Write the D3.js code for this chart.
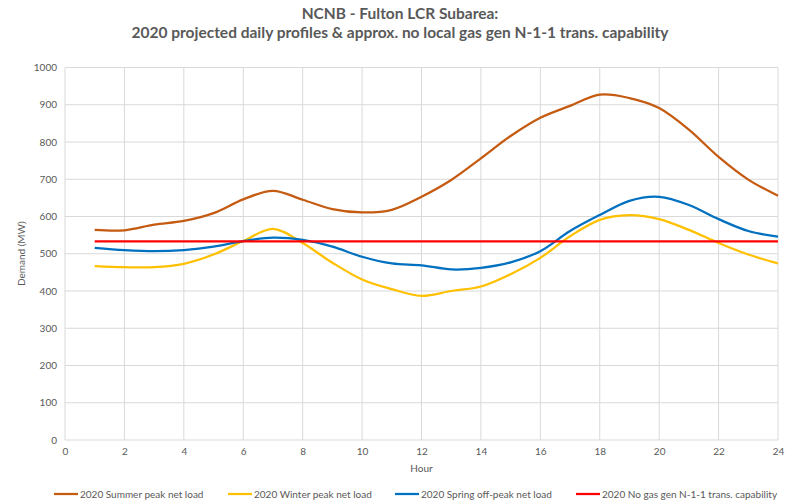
<!DOCTYPE html>
<html>
<head>
<meta charset="utf-8">
<script src="https://cdn.jsdelivr.net/npm/d3@7"></script>
<style>
  body { margin: 0; background: #fff; }
  svg text { font-family: Lato, "Liberation Sans", sans-serif; fill: #595959; }
</style>
</head>
<body>
<script>
// chart data
var hours = d3.range(1, 25);
var summer = [564, 563, 578, 588, 609, 646, 669, 645, 620, 611, 618, 653,
              698, 756, 816, 865, 897, 927, 918, 891, 833, 760, 699, 656];
var winter = [467, 464, 464, 473, 498, 534, 567, 529, 476, 431, 405, 387,
              400, 412, 445, 489, 547, 591, 604, 593, 564, 529, 498, 474];
var spring = [516, 510, 507, 510, 519, 534, 543, 537, 519, 492, 474, 469,
              458, 462, 477, 507, 561, 604, 642, 653, 631, 593, 561, 546];
var capability = 533;
var xTicks = d3.range(0, 25, 2);
var yTicks = d3.range(0, 1001, 100);
var seriesNames = ['2020 Summer peak net load', '2020 Winter peak net load',
                   '2020 Spring off-peak net load', '2020 No gas gen N-1-1 trans. capability'];
var seriesColors = ['#C55A11', '#FFC000', '#0070C0', '#FF0000'];

// layout
var width = 796, height = 504,
    plotLeft = 65, plotRight = 778, plotTop = 67.5, plotBottom = 440;

var svg = d3.select('body').append('svg')
    .attr('width', width)
    .attr('height', height);

var x = d3.scaleLinear().domain([0, 24]).range([plotLeft, plotRight]);
var y = d3.scaleLinear().domain([0, 1000]).range([plotBottom, plotTop]);

// title
svg.append('text')
    .attr('x', 400).attr('y', 19)
    .attr('text-anchor', 'middle')
    .style('font-size', '15.5px').style('font-weight', 'bold')
    .text('NCNB - Fulton LCR Subarea:');
svg.append('text')
    .attr('x', 400).attr('y', 38)
    .attr('text-anchor', 'middle')
    .style('font-size', '15.5px').style('font-weight', 'bold')
    .text('2020 projected daily profiles & approx. no local gas gen N-1-1 trans. capability');

// gridlines
svg.append('g').selectAll('line')
    .data(yTicks).enter().append('line')
    .attr('x1', plotLeft).attr('x2', plotRight)
    .attr('y1', function(d) { return y(d); })
    .attr('y2', function(d) { return y(d); })
    .attr('stroke', '#d9d9d9').attr('stroke-width', 1);
svg.append('g').selectAll('line')
    .data(xTicks).enter().append('line')
    .attr('y1', plotTop).attr('y2', plotBottom)
    .attr('x1', function(d) { return x(d); })
    .attr('x2', function(d) { return x(d); })
    .attr('stroke', '#d9d9d9').attr('stroke-width', 1);

// axes (labels only, lines come from the grid)
var yAxis = svg.append('g')
    .attr('transform', 'translate(' + (plotLeft - 8) + ',0)')
    .call(d3.axisLeft(y).tickValues(yTicks).tickFormat(d3.format('d')).tickSize(0).tickPadding(0));
yAxis.select('.domain').remove();
yAxis.selectAll('text').style('font-size', '10px').style('font-family', 'Lato, sans-serif').attr('fill', '#595959');

var xAxis = svg.append('g')
    .attr('transform', 'translate(0,' + (plotBottom + 8) + ')')
    .call(d3.axisBottom(x).tickValues(xTicks).tickSize(0).tickPadding(0));
xAxis.select('.domain').remove();
xAxis.selectAll('text').style('font-size', '10px').style('font-family', 'Lato, sans-serif').attr('fill', '#595959');

// axis titles
svg.append('text')
    .attr('transform', 'translate(25,' + ((plotTop + plotBottom) / 2) + ') rotate(-90)')
    .attr('text-anchor', 'middle')
    .style('font-size', '10px')
    .text('Demand (MW)');
svg.append('text')
    .attr('x', (plotLeft + plotRight) / 2).attr('y', 472)
    .attr('text-anchor', 'middle')
    .style('font-size', '10px')
    .text('Hour');

// series
var line = d3.line()
    .x(function(d, i) { return x(hours[i]); })
    .y(function(d) { return y(d); })
    .curve(d3.curveCatmullRom.alpha(0));

[summer, winter, spring].forEach(function(s, i) {
  svg.append('path')
      .datum(s)
      .attr('d', line)
      .attr('fill', 'none')
      .attr('stroke', seriesColors[i])
      .attr('stroke-width', 2.25);
});

svg.append('path')
    .datum(hours.map(function() { return capability; }))
    .attr('d', line)
    .attr('fill', 'none')
    .attr('stroke', seriesColors[3])
    .attr('stroke-width', 2.25);

// legend
var legendX = [54, 228, 395, 576];
var legend = svg.append('g').selectAll('g')
    .data(seriesNames).enter().append('g')
    .attr('transform', function(d, i) { return 'translate(' + legendX[i] + ',494)'; });
legend.append('line')
    .attr('x1', 0).attr('x2', 24)
    .attr('stroke', function(d, i) { return seriesColors[i]; })
    .attr('stroke-width', 2.25);
legend.append('text')
    .attr('x', 26).attr('dy', '0.35em')
    .style('font-size', '10px')
    .text(function(d) { return d; });
</script>
</body>
</html>
